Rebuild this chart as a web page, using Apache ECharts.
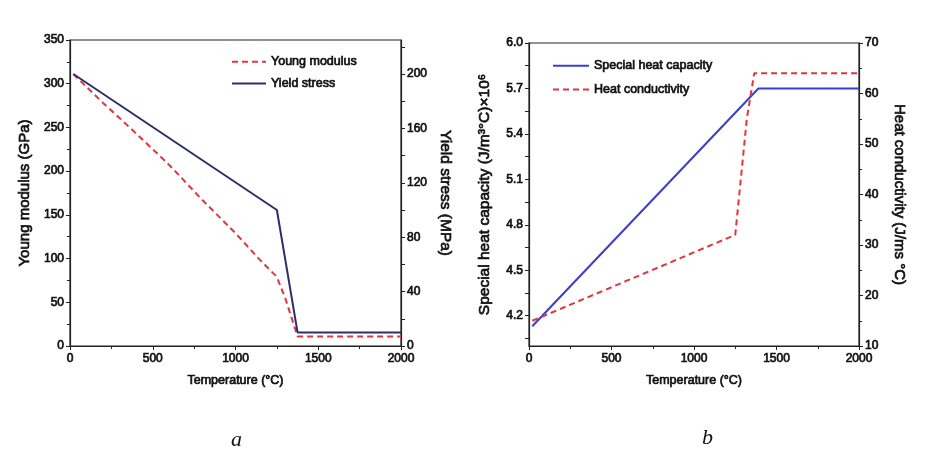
<!DOCTYPE html>
<html>
<head>
<meta charset="utf-8">
<script src="https://cdn.jsdelivr.net/npm/echarts@6/dist/echarts.min.js"></script>
<style>
html,body{margin:0;padding:0;background:#fff;}
#c{width:936px;height:474px;}
</style>
</head>
<body>
<div id="c"></div>
<script>
// ---------- Chart a ----------
const youngTemp = [20, 200, 400, 600, 800, 1000, 1150, 1250, 1300, 1375, 2000];
const youngGPa  = [311, 278, 243, 207, 167, 129, 98, 79, 55, 11, 11];
const yieldTemp = [20, 1250, 1375, 2000];
const yieldMPa  = [200, 100, 10, 10];
const yieldLabelValues = [0, 40, 80, 120, 160, 200];
const yieldTickValues  = [0, 20, 40, 60, 80, 100, 120, 140, 160, 180, 200, 220];

// ---------- Chart b ----------
const capTemp = [20, 1390, 2000];
const capValue = [4.13, 5.7, 5.7];
const condTemp = [20, 1250, 1320, 1365, 2000];
const condValue = [15, 32, 55, 64, 64];
const capLabelValues = [4.2, 4.5, 4.8, 5.1, 5.4, 5.7, 6.0];
const capTickValues  = [4.05, 4.2, 4.35, 4.5, 4.65, 4.8, 4.95, 5.1, 5.25, 5.4, 5.55, 5.7, 5.85, 6.0];

function zip(a, b) { return a.map((v, i) => [v, b[i]]); }

const FONT = "'Liberation Sans', Arial, sans-serif";
const TXT = '#111';
const txt = (size) => ({ color: TXT, fontFamily: FONT, fontSize: size, textBorderColor: TXT, textBorderWidth: 0.7 });

const axisLine = { show: true, lineStyle: { color: '#222', width: 1.2 } };
const axisTick = { show: true, length: 4, inside: false, lineStyle: { color: '#222', width: 1 } };
const minorTick = { show: true, splitNumber: 2, length: 3, lineStyle: { color: '#222', width: 1 } };
const plain = v => String(v);

function xAx(gi) {
  return {
    gridIndex: gi, type: 'value', min: 0, max: 2000, interval: 500,
    name: 'Temperature (°C)', nameLocation: 'middle', nameGap: 28,
    nameTextStyle: txt(12.5),
    axisLine, axisTick, minorTick,
    axisLabel: Object.assign(txt(12), { margin: 7, formatter: plain }),
    splitLine: { show: false }
  };
}

const chart = echarts.init(document.getElementById('c'), null, { renderer: 'canvas' });
chart.setOption({
  backgroundColor: '#fff',
  animation: false,
  grid: [
    { left: 70, top: 40, width: 331, height: 306, show: true, borderColor: '#222', borderWidth: 1.2, backgroundColor: 'transparent' },
    { left: 529, top: 43, width: 330, height: 303, show: true, borderColor: '#222', borderWidth: 1.2, backgroundColor: 'transparent' }
  ],
  legend: [
    {
      data: ['Young modulus', 'Yield stress'], orient: 'vertical', left: 231, top: 55,
      itemWidth: 34, itemHeight: 12, itemGap: 8, textStyle: txt(12.5), padding: 0,
      itemStyle: { opacity: 0 }
    },
    {
      data: ['Special heat capacity', 'Heat conductivity'], orient: 'vertical', left: 552, top: 59,
      itemWidth: 36, itemHeight: 14, itemGap: 10, textStyle: txt(12.5), padding: 0,
      itemStyle: { opacity: 0 }
    }
  ],
  xAxis: [xAx(0), xAx(1)],
  yAxis: [
    {
      gridIndex: 0, type: 'value', min: 0, max: 350, interval: 50, position: 'left',
      name: 'Young modulus (GPa)', nameLocation: 'middle', nameGap: 38, nameRotate: 90,
      nameTextStyle: txt(15),
      axisLine, axisTick, minorTick,
      axisLabel: Object.assign(txt(12), { margin: 6, formatter: plain }),
      splitLine: { show: false }
    },
    {
      gridIndex: 0, type: 'value', min: 0, max: 225, position: 'right',
      name: 'Yield stress (MPa)', nameLocation: 'middle', nameGap: 36, nameRotate: -90,
      nameTextStyle: txt(15.5),
      axisLine,
      axisTick: Object.assign({}, axisTick, { customValues: yieldTickValues }),
      axisLabel: Object.assign(txt(12), { margin: 6, customValues: yieldLabelValues, formatter: plain }),
      splitLine: { show: false }
    },
    {
      gridIndex: 1, type: 'value', min: 4.0, max: 6.0, position: 'left',
      name: 'Special heat capacity (J/m³°C)×10⁶', nameLocation: 'middle', nameGap: 36, nameRotate: 90,
      nameTextStyle: txt(15.5),
      axisLine,
      axisTick: Object.assign({}, axisTick, { customValues: capTickValues }),
      axisLabel: Object.assign(txt(12), { margin: 6, customValues: capLabelValues, formatter: v => v.toFixed(1) }),
      splitLine: { show: false }
    },
    {
      gridIndex: 1, type: 'value', min: 10, max: 70, interval: 10, position: 'right',
      name: 'Heat conductivity (J/ms °C)', nameLocation: 'middle', nameGap: 33, nameRotate: -90,
      nameTextStyle: txt(15),
      axisLine, axisTick, minorTick,
      axisLabel: Object.assign(txt(12), { margin: 6, formatter: plain }),
      splitLine: { show: false }
    }
  ],
  series: [
    {
      name: 'Young modulus', type: 'line', xAxisIndex: 0, yAxisIndex: 0,
      data: zip(youngTemp, youngGPa), symbol: 'none', smooth: false,
      lineStyle: { color: '#e2353c', width: 2, type: [6, 4] }, itemStyle: { color: '#e2353c' }
    },
    {
      name: 'Yield stress', type: 'line', xAxisIndex: 0, yAxisIndex: 1,
      data: zip(yieldTemp, yieldMPa), symbol: 'none',
      lineStyle: { color: '#2c2f6b', width: 2 }, itemStyle: { color: '#2c2f6b' }
    },
    {
      name: 'Special heat capacity', type: 'line', xAxisIndex: 1, yAxisIndex: 2,
      data: zip(capTemp, capValue), symbol: 'none',
      lineStyle: { color: '#3a3dd0', width: 2 }, itemStyle: { color: '#3a3dd0' }
    },
    {
      name: 'Heat conductivity', type: 'line', xAxisIndex: 1, yAxisIndex: 3,
      data: zip(condTemp, condValue), symbol: 'none',
      lineStyle: { color: '#e2353c', width: 2, type: [6, 4] }, itemStyle: { color: '#e2353c' }
    }
  ],
  graphic: [
    { type: 'text', left: 231, top: 429, style: { text: 'a', font: "italic 22px 'Liberation Serif', serif", fill: '#111' } },
    { type: 'text', left: 702, top: 427, style: { text: 'b', font: "italic 22px 'Liberation Serif', serif", fill: '#111' } }
  ]
});
</script>
</body>
</html>
